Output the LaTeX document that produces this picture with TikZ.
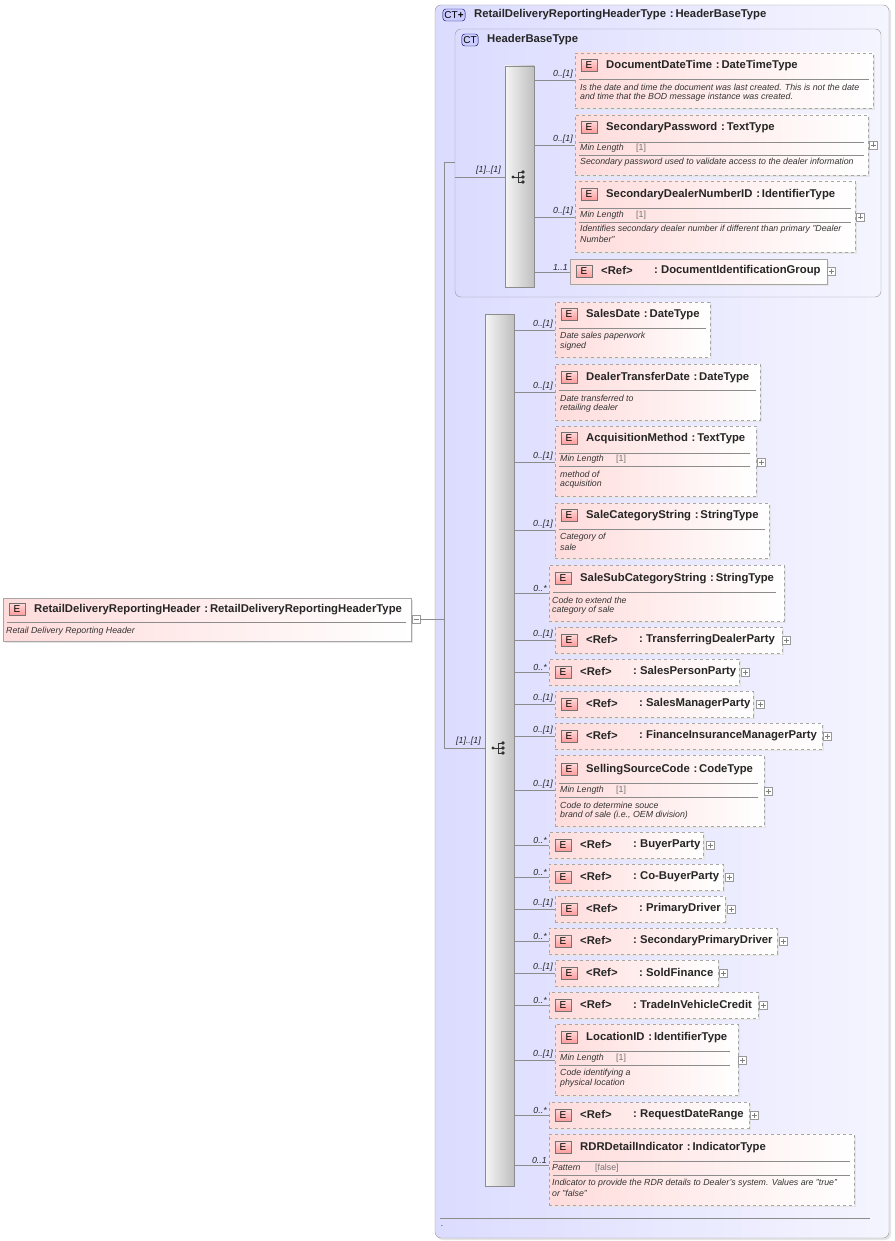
\documentclass[tikz,border=0pt]{standalone}
\usepackage{fontspec}
\setmainfont{Liberation Sans}
\begin{document}
\begin{tikzpicture}[x=1pt,y=-1pt,
 ebox/.style={draw=black!35,left color=red!14,right color=white,anchor=north west,inner sep=0pt,outer sep=0pt},
 ctbox/.style={draw=black!40,rounded corners=6pt,left color=blue!14,right color=blue!4},
 bar/.style={draw=black!45,left color=black!4,right color=black!25,anchor=north west,inner sep=0pt,outer sep=0pt},
 badge/.style={draw=black!55,top color=red!15,bottom color=red!40,minimum width=16pt,minimum height=12pt,inner sep=0pt,font=\fontsize{10}{10}\selectfont},
 ctbadge/.style={draw=blue!40!black,rounded corners=3pt,fill=blue!20,minimum height=12pt,inner sep=1.5pt,font=\fontsize{10}{10}\selectfont},
 ttl/.style={anchor=west,inner sep=0pt,font=\bfseries\fontsize{11.3}{12}\selectfont,text=black!85},
 dtx/.style={anchor=west,inner sep=0pt,font=\itshape\fontsize{8.8}{9}\selectfont,text=black!80},
 card/.style={anchor=south east,inner sep=1pt,font=\itshape\fontsize{8.8}{9}\selectfont,text=black!85},
 cl/.style={draw=black!45,line width=0.6pt},
 sl/.style={draw=black!45,line width=0.5pt}]
\useasboundingbox (0,0) rectangle (894,1241);
\fill[white] (0,0) rectangle (894,1241);
\newcommand\elbox[6]{\fill[black!10] (#2+2,#3+2) rectangle (#4+2,#5+2);
 \node[ebox,#6,minimum width={(#4-#2)*1pt},minimum height={(#5-#3)*1pt}] (#1) at (#2,#3) {};}
\newcommand\etitle[4]{\node[badge] at (#1+14,#2+1.5) {E}; \node[ttl] at (#1+31,#2+1.3) {#3\,\,:\,#4};}
\newcommand\eref[3]{\node[badge] at (#1+14,#2+1.5) {E}; \node[ttl] at (#1+31,#2+0.8) {<Ref>}; \node[ttl] at (#1+84,#2+0.8) {:\;#3};}
\newcommand\sepl[3]{\draw[sl] (#1,#3) -- (#2,#3);}
\newcommand\dsc[3]{\node[dtx] at (#1,#2) {#3};}
\newcommand\facet[4]{\node[dtx] at (#1,#2) {#3}; \node[dtx,font=\fontsize{8.8}{9}\selectfont,text=black!55] at (#1+56,#2) {#4};}
\newcommand\pls[2]{\draw[black!40,fill=white] (#1-4,#2-4) rectangle (#1+4,#2+4); \draw[black!50] (#1-2.5,#2) -- (#1+2.5,#2) (#1,#2-2.5) -- (#1,#2+2.5);}
\newcommand\conn[4]{\draw[cl] (#1.east |- 0,#3) -- (#2.west |- 0,#3) node[card,pos=1,xshift=-1pt] {#4};}
\newcommand\seqicon[2]{\begin{scope}[shift={(#1,#2)}]
 \fill[black!80] (-8,0) circle (1.6); \draw[black!80,line width=0.7pt] (-8,0) -- (-3,0) (-3,-5) -- (-3,5) (-3,-5) -- (2,-5) (-3,0) -- (2,0) (-3,5) -- (2,5);
 \fill[black!80] (2,-5) circle (1.8) (2,0) circle (1.8) (2,5) circle (1.8);\end{scope}}
% outer CT
\fill[black!10] (437,7) [rounded corners=6pt] rectangle (891,1240);
\draw[ctbox] (435,5) rectangle (889,1238);
\node[ctbadge] (ctb1) at (454,15) {CT\textbf{+}};
\node[ttl] (ct1t) at (474,15) {RetailDeliveryReportingHeaderType\,\,:\,HeaderBaseType};
\draw[sl] (440,1218) -- (870,1218);
\node[dtx] at (441,1226) {.};
% inner CT
\draw[ctbox] (455,29) rectangle (881,297);
\node[ctbadge] (ctb2) at (470,40) {CT};
\node[ttl] at (487,40) {HeaderBaseType};
% bars
\node[bar,minimum width=29pt,minimum height=221pt] (bar1) at (505,66) {};
\seqicon{521}{177}
\node[bar,minimum width=29pt,minimum height=872pt] (bar2) at (485,314) {};
\seqicon{501}{748}
% root
\fill[black!10] (5,600) rectangle (413,643);
\node[ebox,minimum width=408pt,minimum height=43pt] (root) at (3,598) {};
\etitle{3}{608}{RetailDeliveryReportingHeader}{RetailDeliveryReportingHeaderType}
\sepl{7}{406}{622}
\dsc{6}{631}{Retail Delivery Reporting Header}
\draw[black!40,fill=white] (412,615) rectangle (420,623); \draw[black!50] (413.5,619) -- (418.5,619);
\coordinate (j) at (444,619);
\draw[cl] (420,619) -- (j) (444,162) -- (444,748);
\draw[cl] (444,162) -- (455,162);
\draw[cl] (455,177) -- (bar1.west |- 0,177) node[card,pos=1,xshift=-3pt,yshift=1pt] {[1]..[1]};
\draw[cl] (444,748) -- (bar2.west |- 0,748) node[card,pos=1,xshift=-3pt,yshift=1pt] {[1]..[1]};
% bar1 children
\elbox{ddt}{575}{53}{873}{108}{dashed}
\etitle{575}{64}{DocumentDateTime}{DateTimeType}
\sepl{579}{869}{79}
\dsc{580}{87}{Is the date and time the document was last created. This is not the date}
\dsc{580}{97}{and time that the BOD message instance was created.}
\conn{bar1}{ddt}{80}{0..[1]}
\elbox{spw}{575}{115}{868}{175}{dashed}
\etitle{575}{126}{SecondaryPassword}{TextType}
\sepl{579}{864}{142}\facet{580}{148}{Min Length}{[1]}\sepl{579}{864}{155}
\dsc{580}{162}{Secondary password used to validate access to the dealer information}
\pls{873}{145}
\conn{bar1}{spw}{145}{0..[1]}
\elbox{sdn}{575}{181}{855}{252}{dashed}
\etitle{575}{193}{SecondaryDealerNumberID}{IdentifierType}
\sepl{579}{851}{208}\facet{580}{215}{Min Length}{[1]}\sepl{579}{851}{222}
\dsc{580}{229}{Identifies secondary dealer number if different than primary "Dealer}
\dsc{580}{239}{Number"}
\pls{860}{217}
\conn{bar1}{sdn}{217}{0..[1]}
\elbox{dig}{570}{259}{827}{284}{}
\eref{570}{270}{DocumentIdentificationGroup}
\pls{831}{271}
\conn{bar1}{dig}{272}{1..1}
% bar2 children
\elbox{sd}{555}{302}{710}{357}{dashed}
\etitle{555}{313}{SalesDate}{DateType}
\sepl{559}{706}{328}\dsc{560}{336}{Date sales paperwork}\dsc{560}{346}{signed}
\conn{bar2}{sd}{330}{0..[1]}
\elbox{dtd}{555}{364}{760}{420}{dashed}
\etitle{555}{376}{DealerTransferDate}{DateType}
\sepl{559}{756}{390}\dsc{560}{398}{Date transferred to}\dsc{560}{408}{retailing dealer}
\conn{bar2}{dtd}{392}{0..[1]}
\elbox{am}{555}{426}{756}{496}{dashed}
\etitle{555}{437}{AcquisitionMethod}{TextType}
\sepl{559}{750}{453}\facet{560}{459}{Min Length}{[1]}\sepl{559}{750}{466}
\dsc{560}{474}{method of}\dsc{560}{484}{acquisition}
\pls{761}{462}
\conn{bar2}{am}{462}{0..[1]}
\elbox{scs}{555}{503}{769}{558}{dashed}
\etitle{555}{514}{SaleCategoryString}{StringType}
\sepl{559}{765}{529}\dsc{560}{537}{Category of}\dsc{560}{547}{sale}
\conn{bar2}{scs}{530}{0..[1]}
\elbox{sscs}{549}{565}{784}{621}{dashed}
\etitle{549}{577}{SaleSubCategoryString}{StringType}
\sepl{553}{776}{592}\dsc{552}{600}{Code to extend the}\dsc{552}{610}{category of sale}
\conn{bar2}{sscs}{593}{0..*}
\elbox{tdp}{555}{627}{782}{653}{dashed}\eref{555}{639}{TransferringDealerParty}\pls{786}{640}
\conn{bar2}{tdp}{640}{0..[1]}
\elbox{spp}{549}{659}{739}{685}{dashed}\eref{549}{671}{SalesPersonParty}\pls{745}{672}
\conn{bar2}{spp}{672}{0..*}
\elbox{smp}{555}{691}{753}{717}{dashed}\eref{555}{703}{SalesManagerParty}\pls{760}{704}
\conn{bar2}{smp}{704}{0..[1]}
\elbox{fim}{555}{723}{822}{749}{dashed}\eref{555}{735}{FinanceInsuranceManagerParty}\pls{827}{736}
\conn{bar2}{fim}{736}{0..[1]}
\elbox{ssc}{555}{755}{764}{826}{dashed}
\etitle{555}{768}{SellingSourceCode}{CodeType}
\sepl{559}{758}{783}\facet{560}{790}{Min Length}{[1]}\sepl{559}{758}{797}
\dsc{560}{805}{Code to determine souce}\dsc{560}{815}{brand of sale (i.e., OEM division)}
\pls{768}{791}
\conn{bar2}{ssc}{790}{0..[1]}
\elbox{bp}{549}{832}{703}{858}{dashed}\eref{549}{844}{BuyerParty}\pls{710}{845}
\conn{bar2}{bp}{845}{0..*}
\elbox{cbp}{549}{864}{723}{890}{dashed}\eref{549}{876}{Co-BuyerParty}\pls{729}{877}
\conn{bar2}{cbp}{877}{0..*}
\elbox{pd}{555}{896}{725}{922}{dashed}\eref{555}{908}{PrimaryDriver}\pls{731}{909}
\conn{bar2}{pd}{909}{0..[1]}
\elbox{spd}{549}{928}{777}{954}{dashed}\eref{549}{940}{SecondaryPrimaryDriver}\pls{783}{941}
\conn{bar2}{spd}{941}{0..*}
\elbox{sf}{555}{960}{718}{986}{dashed}\eref{555}{972}{SoldFinance}\pls{723}{973}
\conn{bar2}{sf}{973}{0..[1]}
\elbox{tvc}{549}{992}{758}{1018}{dashed}\eref{549}{1004}{TradeInVehicleCredit}\pls{763}{1005}
\conn{bar2}{tvc}{1005}{0..*}
\elbox{lid}{555}{1024}{738}{1095}{dashed}
\etitle{555}{1036}{LocationID}{IdentifierType}
\sepl{559}{730}{1051}\facet{560}{1058}{Min Length}{[1]}\sepl{559}{730}{1065}
\dsc{560}{1073}{Code identifying a}\dsc{560}{1083}{physical location}
\pls{742}{1060}
\conn{bar2}{lid}{1060}{0..[1]}
\elbox{rdr}{549}{1102}{749}{1128}{dashed}\eref{549}{1114}{RequestDateRange}\pls{754}{1115}
\conn{bar2}{rdr}{1115}{0..*}
\elbox{rdi}{549}{1134}{854}{1205}{dashed}
\etitle{549}{1146}{RDRDetailIndicator}{IndicatorType}
\sepl{553}{850}{1161}\facet{552}{1168}{Pattern}{}\node[dtx,font=\fontsize{8.8}{9}\selectfont,text=black!55] at (595,1168) {[false]};\sepl{553}{850}{1175}
\dsc{552}{1183}{Indicator to provide the RDR details to Dealer's system. Values are "true"}
\dsc{552}{1193}{or "false"}
\conn{bar2}{rdi}{1165}{0..1}
\end{tikzpicture}
\end{document}
